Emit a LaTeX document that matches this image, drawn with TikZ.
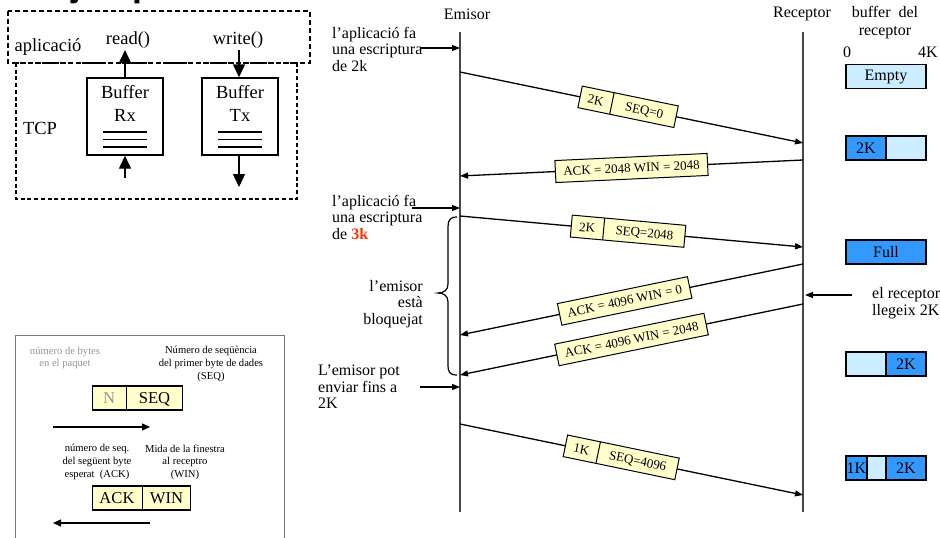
\documentclass[tikz,border=0pt]{standalone}
\usepackage{fontspec}
\setmainfont{Liberation Serif}
\newfontfamily\headfont{Liberation Sans}
\usetikzlibrary{arrows.meta}

\definecolor{notefill}{RGB}{255,255,204}
\definecolor{buflight}{RGB}{204,236,255}
\definecolor{bufdark}{RGB}{51,153,255}
\definecolor{warnred}{RGB}{255,51,0}
\definecolor{lifegray}{RGB}{72,72,72}
\definecolor{softgray}{RGB}{150,150,150}
\definecolor{framegray}{RGB}{120,120,120}

% font size / baseline skip in pt (1pt = 1 px here)
\newcommand\fsz[2]{\fontsize{#1pt}{#2pt}\selectfont}
% two cells of fixed width separated by a rule
\newcommand\cellpair[4]{\makebox[#1]{#2}\vrule width 1pt\makebox[#3]{#4}}
\newcommand\tagstrut{\rule[-6.5pt]{0pt}{22pt}}
\newcommand\legstrut{\rule[-7pt]{0pt}{24pt}}

\tikzset{
  lbl/.style={inner sep=0pt, font=\fsz{16}{16.5}},
  bigtxt/.style={inner sep=0pt, font=\fsz{18.5}{23}},
  smalltxt/.style={inner sep=0pt, font=\fsz{10.6}{12.6}, align=center},
  msgarrow/.style={line width=1.3pt, -{Triangle[length=8pt,width=6pt]}},
  bigarrow/.style={line width=1.4pt, -{Triangle[length=13pt,width=12pt]}},
  legarrow/.style={line width=1.4pt, -{Triangle[length=8pt,width=7pt]}},
  lifeline/.style={draw=lifegray, line width=2pt},
  tag/.style={draw, fill=notefill, line width=1pt, inner xsep=8pt, inner ysep=0pt, font=\fsz{13}{13}, sloped},
  pairtag/.style={draw, fill=notefill, line width=1pt, inner sep=0pt, font=\fsz{13}{13}, sloped},
  legpair/.style={draw, fill=notefill, line width=1.2pt, inner sep=0pt, font=\fsz{16.6}{16.6}},
  bufcell/.style={draw, line width=1.2pt, minimum height=24pt, inner sep=0pt, font=\fsz{16}{16}},
  stackbox/.style={draw, line width=1.4pt, minimum width=76pt, minimum height=77pt, inner sep=0pt},
  appframe/.style={draw, line width=2pt, dash pattern=on 5pt off 3pt},
  tcpframe/.style={draw, line width=1.5pt, dash pattern=on 4pt off 2.7pt},
}

\begin{document}
\begin{tikzpicture}[x=1pt,y=-1pt]
\useasboundingbox (0,0) rectangle (940,538);
\fill[white] (0,0) rectangle (940,538);

% heading running off the top edge
\node[anchor=base west, inner sep=0pt, font=\headfont\bfseries\fsz{35.5}{40}] (title) at (47.6,-3) {Ejemplo};

% ---------- application / TCP stack ----------
\draw[appframe] (8,11) rectangle (310,63);
\draw[tcpframe] (16,63) rectangle (297,199);
\node[bigtxt] (app) at (48,47) {aplicació};
\node[bigtxt] (tcp) at (40,128) {TCP};
\node[bigtxt] (rd) at (128,40) {read()};
\node[bigtxt] (wr) at (238,40) {write()};

\node[stackbox] (rx) at (125,116.5) {};
\node[stackbox] (tx) at (240,116.5) {};
\node[bigtxt, align=center] (rxname) at (125,103.5) {Buffer\\Rx};
\node[bigtxt, align=center] (txname) at (240,103.5) {Buffer\\Tx};
\foreach \yy in {132,139.5,147}{
  \draw[line width=1.2pt] (103,\yy) -- (147,\yy);
  \draw[line width=1.2pt] (218,\yy) -- (262,\yy);
}
\coordinate (rxup) at (125,50);
\coordinate (rxin) at (125,178);
\coordinate (txdown) at (239,50);
\coordinate (txout) at (239,187);
\draw[bigarrow] (rx.north) -- (rxup);
\draw[bigarrow] (rxin) -- (rx.south);
\draw[bigarrow] (txdown) -- (tx.north -| txdown);
\draw[bigarrow] (tx.south -| txout) -- (txout);

% ---------- legend ----------
\draw[framegray, line width=1pt] (15,548) -- (15,335) -- (284,335) -- (284,548);
\node[smalltxt, text=softgray] (nbytes) at (65,358) {número de bytes\\en el paquet};
\node[smalltxt] (seqdesc) at (211,364) {Número de seqüència\\del primer byte de dades\\(SEQ)};
\node[legpair] (nseq) at (137.5,398) {\cellpair{33pt}{\legstrut\textcolor{softgray}{N}}{56pt}{SEQ}};
\coordinate (la1) at (53,427);
\coordinate (la2) at (150,427);
\draw[legarrow] (la1) -- (la2);
\node[smalltxt] (ackdesc) at (97,462) {número de seq.\\del següent byte\\esperat\ \ (ACK)};
\node[smalltxt] (windesc) at (185,462) {Mida de la finestra\\al receptro\\(WIN)};
\node[legpair] (ackwin) at (141.5,498) {\cellpair{49pt}{\legstrut ACK}{48pt}{WIN}};
\coordinate (lb1) at (150,523);
\coordinate (lb2) at (53,523);
\draw[legarrow] (lb1) -- (lb2);

% ---------- lifelines ----------
\node[lbl] (emisor) at (467,14) {Emisor};
\node[lbl] (receptor) at (802,14) {Receptor};
\node[lbl, align=center, font=\fsz{16}{18}] (bufhead) at (885,23) {buffer\ \ del\\receptor};
\node[lbl] (zero) at (847,52) {0};
\node[lbl] (fourk) at (928,52) {4K};

\coordinate (etop) at (460,32);
\coordinate (ebot) at (460,512);
\coordinate (rtop) at (803,32);
\coordinate (rbot) at (803,512);
\draw[lifeline] (etop) -- (ebot);
\draw[lifeline, line width=1.6pt] (rtop) -- (rbot);

% ---------- side notes ----------
\node[lbl, anchor=west, align=left] (w1) at (332,49) {l’aplicació fa\\una escriptura\\de 2k};
\coordinate (w1a) at (420,48);
\coordinate (w1b) at (460,48);
\draw[msgarrow] (w1a) -- (w1b);

\node[lbl, anchor=west, align=left] (w2) at (332,217) {l’aplicació fa\\una escriptura\\de \textcolor{warnred}{\textbf{3k}}};
\coordinate (w2a) at (412,208);
\coordinate (w2b) at (460,208);
\draw[msgarrow] (w2a) -- (w2b);

\draw[line width=1.2pt] (457,217) .. controls (450,217) and (448,220) .. (448,227)
  -- (448,284) .. controls (448,290) and (444,293) .. (438,293)
  .. controls (444,293) and (448,296) .. (448,302)
  -- (448,366) .. controls (448,372) and (450,375) .. (457,375);
\node[lbl, anchor=east, align=right] (blocked) at (423,304) {l’emisor\\està\\bloquejat};

\node[lbl, anchor=west, align=left] (cansend) at (318,387) {L’emisor pot\\enviar fins a\\2K};
\coordinate (csa) at (420,387);
\coordinate (csb) at (460,387);
\draw[msgarrow] (csa) -- (csb);

\node[lbl, anchor=west, align=left] (reads) at (872,303) {el receptor\\llegeix 2K};
\coordinate (rda) at (852,295);
\coordinate (rdb) at (805,295);
\draw[msgarrow] (rda) -- (rdb);

% ---------- segments and acknowledgements ----------
\coordinate (s1a) at (460,72);  \coordinate (s1b) at (803,143);
\coordinate (a1a) at (803,160); \coordinate (a1b) at (460,176);
\coordinate (s2a) at (460,216); \coordinate (s2b) at (803,247);
\coordinate (a2a) at (803,264); \coordinate (a2b) at (460,335);
\coordinate (a3a) at (803,304); \coordinate (a3b) at (460,375);
\coordinate (s3a) at (460,424); \coordinate (s3b) at (803,495);

\draw[msgarrow] (s1a) -- node[pairtag, pos=0.49] (seg1) {\cellpair{32pt}{\tagstrut 2K}{65pt}{SEQ=0}} (s1b);
\draw[msgarrow] (a1a) -- node[tag, pos=0.5] (ack1) {\tagstrut ACK = 2048 WIN = 2048} (a1b);
\draw[msgarrow] (s2a) -- node[pairtag, pos=0.49] (seg2) {\cellpair{32pt}{\tagstrut 2K}{81pt}{SEQ=2048}} (s2b);
\draw[msgarrow] (a2a) -- node[tag, pos=0.52] (ack2) {\tagstrut ACK = 4096 WIN = 0} (a2b);
\draw[msgarrow] (a3a) -- node[tag, pos=0.5] (ack3) {\tagstrut ACK = 4096 WIN = 2048} (a3b);
\draw[msgarrow] (s3a) -- node[pairtag, pos=0.47] (seg3) {\cellpair{33pt}{\tagstrut 1K}{80pt}{SEQ=4096}} (s3b);

% ---------- receiver buffer states ----------
\node[bufcell, fill=buflight, minimum width=80pt] (bempty) at (886,76.5) {Empty};
\node[bufcell, fill=bufdark, minimum width=40pt] (b2a) at (866,148) {2K};
\node[bufcell, fill=buflight, minimum width=40pt] (b2b) at (906,148) {};
\node[bufcell, fill=bufdark, minimum width=80pt] (bfull) at (886,252) {Full};
\node[bufcell, fill=buflight, minimum width=40pt] (b3a) at (866,364) {};
\node[bufcell, fill=bufdark, minimum width=40pt] (b3b) at (906,364) {2K};
\node[bufcell, fill=bufdark, minimum width=21pt] (b4a) at (856.5,468) {1K};
\node[bufcell, fill=buflight, minimum width=19pt] (b4b) at (876.5,468) {};
\node[bufcell, fill=bufdark, minimum width=40pt] (b4c) at (906,468) {2K};
\end{tikzpicture}
\end{document}
